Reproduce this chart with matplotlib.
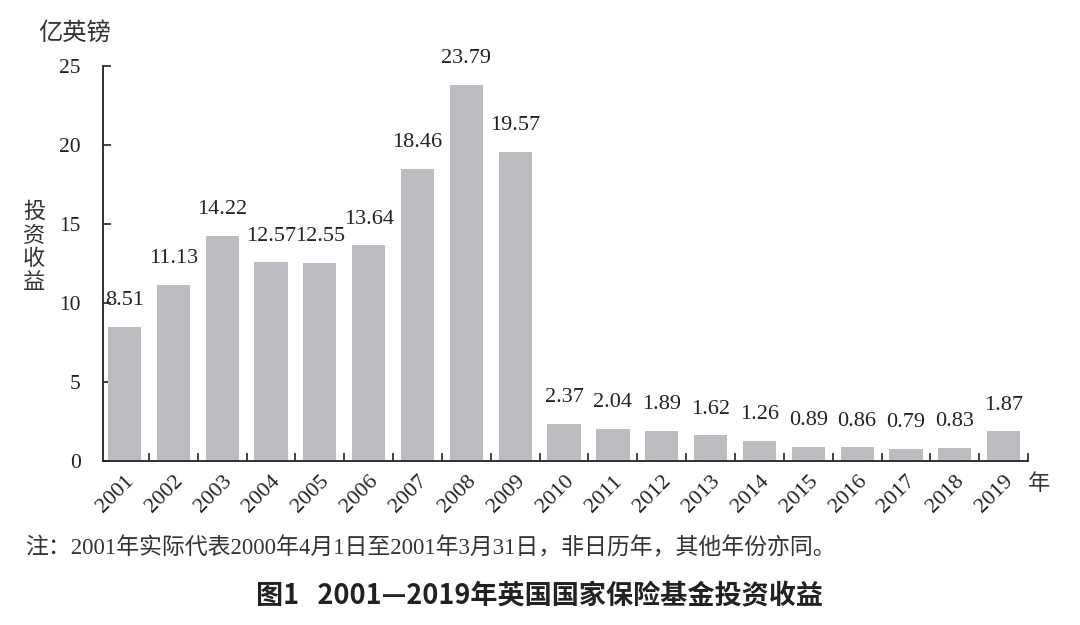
import numpy as np
import matplotlib.pyplot as plt

plt.rcParams["font.family"] = ["Liberation Serif", "Noto Sans CJK SC", "DejaVu Sans"]

years = [str(y) for y in range(2001, 2020)]
returns = [8.51, 11.13, 14.22, 12.57, 12.55, 13.64, 18.46, 23.79, 19.57,
           2.37, 2.04, 1.89, 1.62, 1.26, 0.89, 0.86, 0.79, 0.83, 1.87]
y_ticks = [0, 5, 10, 15, 20, 25]

BAR_COLOR = "#bcbdc0"
CJK = ["Noto Sans CJK SC", "DejaVu Sans"]
SERIF_CJK = ["Liberation Serif", "Noto Sans CJK SC", "DejaVu Sans"]

fig = plt.figure(figsize=(10.8, 6.25), dpi=100)
ax = fig.add_axes([0.0954, 0.2624, 0.8565, 0.632])

x = np.arange(len(years))
ax.bar(x, returns, width=0.68, color=BAR_COLOR, zorder=2)

for xi, v in zip(x, returns):
    ax.annotate(f"{v:.2f}", (xi, v), xytext=(0, 19), textcoords="offset points",
                ha="center", va="center", fontsize=16, color="#222222")

ax.set_xlim(-0.44, len(years) - 0.5)
ax.set_ylim(0, 25)

ax.spines["top"].set_visible(False)
ax.spines["right"].set_visible(False)
for s in ("left", "bottom"):
    ax.spines[s].set_linewidth(1.3)
    ax.spines[s].set_color("#222222")

ax.set_yticks(y_ticks)
ax.set_yticklabels([str(t) for t in y_ticks], fontsize=15.5, color="#222222")
ax.tick_params(axis="y", direction="in", length=6, width=1.2, pad=16, colors="#222222")

ax.set_xticks(x)
ax.set_xticklabels(years, rotation=45, ha="right", rotation_mode="anchor",
                   fontsize=16, color="#222222")
ax.tick_params(axis="x", which="major", length=0, pad=8)
ax.set_xticks(x + 0.5, minor=True)
ax.tick_params(axis="x", which="minor", direction="in", length=6, width=1.2, colors="#222222")

fig.text(0.035, 0.947, "亿英镑", family=CJK, fontsize=17.5, ha="left", va="center", color="#333333")
fig.text(0.0315, 0.605, "投\n资\n收\n益", family=CJK, fontsize=16, ha="center", va="center",
         linespacing=1.05, color="#333333")
fig.text(0.952, 0.2256, "年", family=CJK, fontsize=16, ha="left", va="center", color="#333333")

fig.text(0.023, 0.123, "注：2001年实际代表2000年4月1日至2001年3月31日，非日历年，其他年份亦同。",
         family=SERIF_CJK, fontsize=16.5, ha="left", va="center", color="#333333")
fig.text(0.5, 0.045, "图1   2001—2019年英国国家保险基金投资收益", family=CJK,
         fontsize=19.5, fontweight="bold", ha="center", va="center", color="#222222")

fig.savefig("out.png", dpi=100)
